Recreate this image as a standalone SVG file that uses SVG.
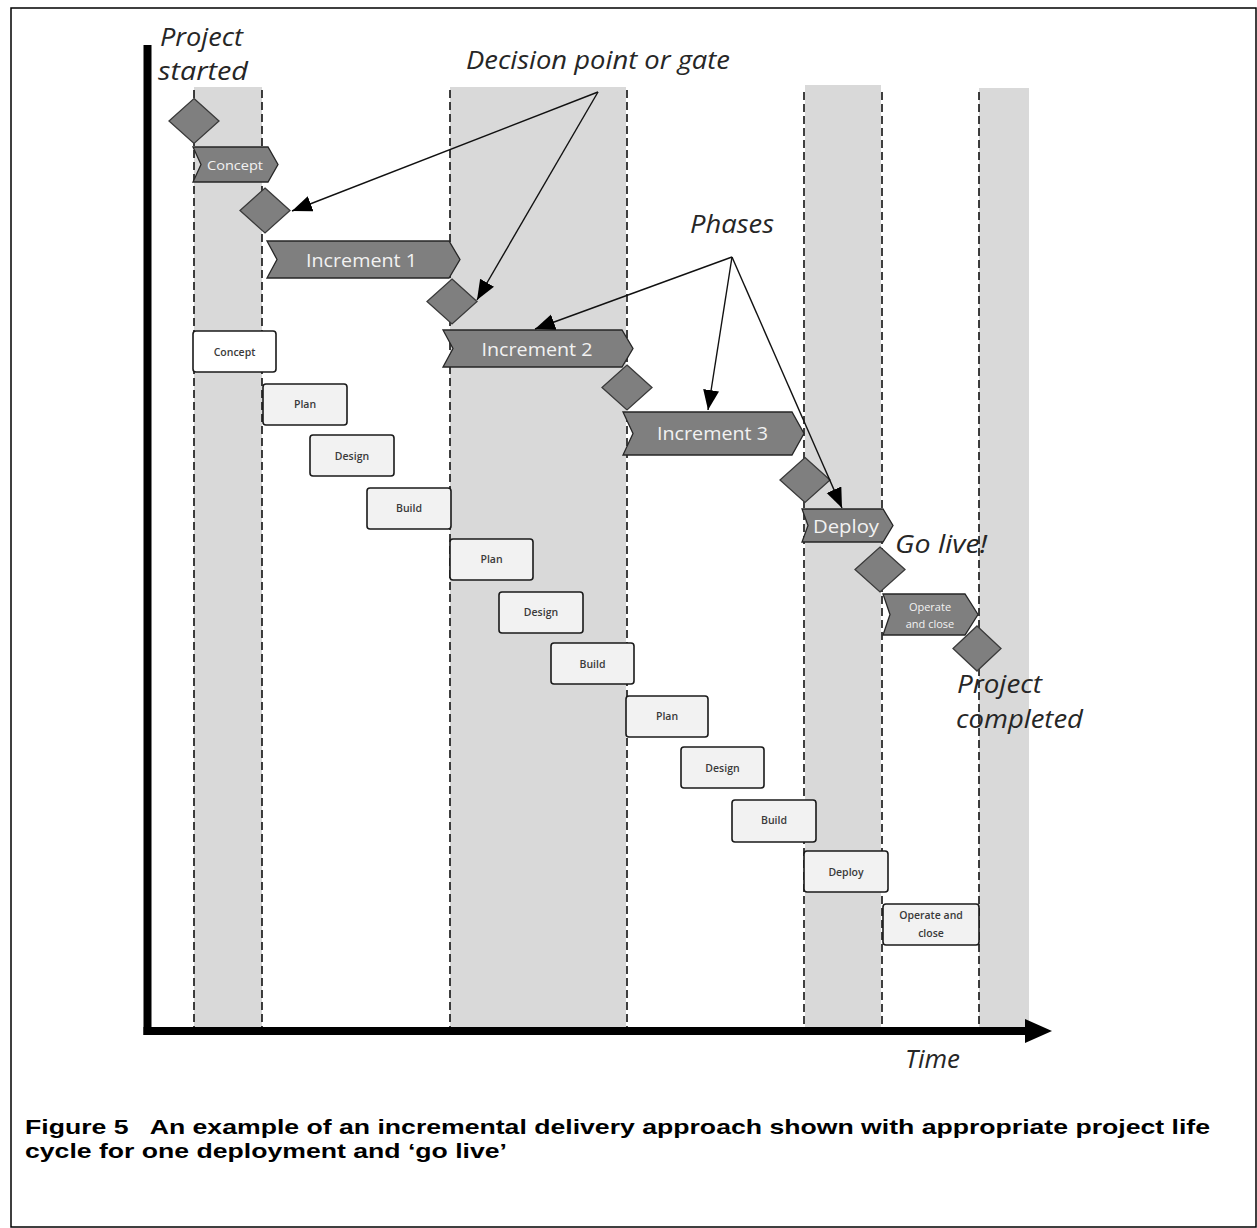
<svg xmlns="http://www.w3.org/2000/svg" width="1257" height="1228" viewBox="0 0 1257 1228">
<style>
.shade{fill:#d9d9d9}
.dash{stroke:#111;stroke-width:1.6;stroke-dasharray:8 4;fill:none}
.chev{fill:#7f7f7f;stroke:#262626;stroke-width:1.3}
.chevt{fill:#f2f2f2;font-family:"Open Sans","DejaVu Sans",sans-serif;text-anchor:middle}
.dia{fill:#7f7f7f;stroke:#3a3a3a;stroke-width:1.3}
.box{fill:#f2f2f2;stroke:#1a1a1a;stroke-width:1.6}
.boxt{fill:#3a3a3a;font-family:"Open Sans","DejaVu Sans",sans-serif;font-size:10.5px;font-weight:600;text-anchor:middle}
.lab{fill:#262626;font-family:"Open Sans","DejaVu Sans",sans-serif;font-style:italic;font-size:26px}
.conn{stroke:#111;stroke-width:1.4;fill:none;marker-end:url(#ah)}
.cap{fill:#000;font-family:"Liberation Sans",Arial,sans-serif;font-weight:bold;font-size:21px}
</style>
<defs>
<marker id="ah" markerUnits="userSpaceOnUse" markerWidth="22" markerHeight="18" refX="20" refY="8" orient="auto">
<path d="M0,0 L20,8 L0,16 z" fill="#000"/>
</marker>
</defs>
<rect x="0" y="0" width="1257" height="1228" fill="#fff"/>
<rect x="11" y="8" width="1245" height="1219" fill="none" stroke="#000" stroke-width="1.5"/>

<g id="columns">
<rect class="shade" x="194" y="87" width="68" height="941"/>
<rect class="shade" x="450" y="87" width="176" height="941"/>
<rect class="shade" x="805" y="85" width="76" height="943"/>
<rect class="shade" x="979" y="88" width="50" height="940"/>
<line class="dash" x1="194" y1="90" x2="194" y2="1027"/>
<line class="dash" x1="262" y1="90" x2="262" y2="1027"/>
<line class="dash" x1="450" y1="90" x2="450" y2="1027"/>
<line class="dash" x1="627" y1="90" x2="627" y2="1027"/>
<line class="dash" x1="804" y1="92" x2="804" y2="1027"/>
<line class="dash" x1="882" y1="92" x2="882" y2="1027"/>
<line class="dash" x1="979" y1="92" x2="979" y2="1027"/>
</g>

<g id="axes">
<line x1="147.5" y1="45" x2="147.5" y2="1035" stroke="#000" stroke-width="8"/>
<line x1="143.5" y1="1031" x2="1027" y2="1031" stroke="#000" stroke-width="8"/>
<polygon points="1025,1019 1052,1031 1025,1043" fill="#000"/>
<text class="lab" x="905" y="1068" textLength="55" lengthAdjust="spacingAndGlyphs">Time</text>
</g>

<g id="boxes">
<g id="box-concept"><rect class="box" x="193" y="331" width="83" height="41" rx="3" style="fill:#fff"/><text class="boxt" x="234.5" y="356">Concept</text></g>
<g id="box-plan1"><rect class="box" x="263" y="384" width="84" height="41" rx="3"/><text class="boxt" x="305" y="408">Plan</text></g>
<g id="box-design1"><rect class="box" x="310" y="435" width="84" height="41" rx="3"/><text class="boxt" x="352" y="460">Design</text></g>
<g id="box-build1"><rect class="box" x="367" y="488" width="84" height="41" rx="3"/><text class="boxt" x="409" y="512">Build</text></g>
<g id="box-plan2"><rect class="box" x="450" y="539" width="83" height="41" rx="3"/><text class="boxt" x="491.5" y="563">Plan</text></g>
<g id="box-design2"><rect class="box" x="499" y="592" width="84" height="41" rx="3"/><text class="boxt" x="541" y="616">Design</text></g>
<g id="box-build2"><rect class="box" x="551" y="643" width="83" height="41" rx="3"/><text class="boxt" x="592.5" y="668">Build</text></g>
<g id="box-plan3"><rect class="box" x="626" y="696" width="82" height="41" rx="3"/><text class="boxt" x="667" y="720">Plan</text></g>
<g id="box-design3"><rect class="box" x="681" y="747" width="83" height="41" rx="3"/><text class="boxt" x="722.5" y="772">Design</text></g>
<g id="box-build3"><rect class="box" x="732" y="800" width="84" height="42" rx="3"/><text class="boxt" x="774" y="824">Build</text></g>
<g id="box-deploy"><rect class="box" x="804" y="851" width="84" height="41" rx="3"/><text class="boxt" x="846" y="876">Deploy</text></g>
<g id="box-operate"><rect class="box" x="883" y="904" width="96" height="41" rx="3"/><text class="boxt" x="931" y="919">Operate and</text><text class="boxt" x="931" y="937">close</text></g>
</g>

<g id="phases">
<g id="chev-concept"><polygon class="chev" points="193,147 268,147 278,164.5 268,182 193,182 201,164.5"/><text class="chevt" x="235" y="169.5" font-size="13" textLength="56" lengthAdjust="spacingAndGlyphs">Concept</text></g>
<g id="chev-inc1"><polygon class="chev" points="267,241 449,241 460,259.5 449,278 267,278 277,259.5"/><text class="chevt" x="361.5" y="266.5" font-size="19" textLength="111" lengthAdjust="spacingAndGlyphs">Increment 1</text></g>
<g id="chev-inc2"><polygon class="chev" points="443,330 622,330 633,348.5 622,367 443,367 453,348.5"/><text class="chevt" x="537" y="355.5" font-size="19" textLength="111" lengthAdjust="spacingAndGlyphs">Increment 2</text></g>
<g id="chev-inc3"><polygon class="chev" points="623,412 792,412 804,433.5 792,455 623,455 633,433.5"/><text class="chevt" x="712.5" y="440" font-size="19" textLength="111" lengthAdjust="spacingAndGlyphs">Increment 3</text></g>
<g id="chev-deploy"><polygon class="chev" points="802,509 883,509 893,525.5 883,542 802,542 808,525.5"/><text class="chevt" x="846" y="532.5" font-size="19" textLength="66" lengthAdjust="spacingAndGlyphs">Deploy</text></g>
<g id="chev-operate"><polygon class="chev" points="883,594 965,594 978,614.5 965,635 883,635 890,614.5"/><text class="chevt" x="930" y="611" font-size="11">Operate</text><text class="chevt" x="930" y="628" font-size="11">and close</text></g>
</g>

<g id="gates">
<polygon id="gate-1" class="dia" points="194,98.5 219,121 194,143.5 169,121"/>
<polygon id="gate-2" class="dia" points="265,188 290,210.5 265,233 240,210.5"/>
<polygon id="gate-3" class="dia" points="452,279 477,301.5 452,324 427,301.5"/>
<polygon id="gate-4" class="dia" points="627,365 652,387.5 627,410 602,387.5"/>
<polygon id="gate-5" class="dia" points="805,457.5 830,480 805,502.5 780,480"/>
<polygon id="gate-6" class="dia" points="880,547 905,569.5 880,592 855,569.5"/>
<polygon id="gate-7" class="dia" points="977,626 1001,648.5 977,671 953,648.5"/>
</g>

<g id="labels">
<text class="lab" x="160" y="46" textLength="83" lengthAdjust="spacingAndGlyphs">Project</text>
<text class="lab" x="158" y="80" textLength="90" lengthAdjust="spacingAndGlyphs">started</text>
<text class="lab" x="466" y="69" textLength="264" lengthAdjust="spacingAndGlyphs">Decision point or gate</text>
<text class="lab" x="690" y="233" textLength="84" lengthAdjust="spacingAndGlyphs">Phases</text>
<text class="lab" x="895" y="553" textLength="92" lengthAdjust="spacingAndGlyphs">Go live!</text>
<text class="lab" x="957" y="693" textLength="85" lengthAdjust="spacingAndGlyphs">Project</text>
<text class="lab" x="956" y="728" textLength="127" lengthAdjust="spacingAndGlyphs">completed</text>
</g>

<g id="connectors">
<line class="conn" x1="598" y1="92" x2="292" y2="211"/>
<line class="conn" x1="598" y1="92" x2="477" y2="300"/>
<line class="conn" x1="732" y1="257" x2="535" y2="329"/>
<line class="conn" x1="732" y1="257" x2="708" y2="410"/>
<line class="conn" x1="732" y1="257" x2="842" y2="508"/>
</g>

<g id="caption">
<text class="cap" x="25" y="1134" textLength="1185" lengthAdjust="spacingAndGlyphs">Figure 5&#160;&#160; An example of an incremental delivery approach shown with appropriate project life</text>
<text class="cap" x="25" y="1158" textLength="482" lengthAdjust="spacingAndGlyphs">cycle for one deployment and ‘go live’</text>
</g>
</svg>
